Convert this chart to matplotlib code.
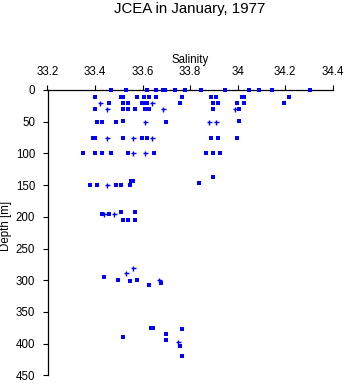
import matplotlib
matplotlib.use("Agg")
import matplotlib.pyplot as plt

plt.rcParams['font.family'] = ['Liberation Sans', 'DejaVu Sans']

# Bottle samples: salinity (psu) and depth (m), square symbols
sq_salinity = [
    33.468, 33.529, 33.619, 33.658, 33.687, 33.696, 33.738, 33.780, 33.847, 33.948, 34.049, 34.089, 34.146, 34.306,
    33.401, 33.509, 33.519, 33.578, 33.607, 33.628, 33.658, 33.767, 33.888, 33.908, 34.018, 34.028, 34.217,
    33.460, 33.519, 33.540, 33.599, 33.609, 33.619, 33.759, 33.898, 33.919, 33.999, 34.028, 34.196,
    33.400, 33.519, 33.540, 33.569, 33.609, 33.628, 33.898, 34.007,
    33.410, 33.431, 33.489, 33.519, 33.700, 34.007,
    33.390, 33.400, 33.519, 33.599, 33.619, 33.888, 33.919, 33.999,
    33.351, 33.401, 33.431, 33.468, 33.540, 33.649, 33.868, 33.898, 33.927,
    33.898, 33.550, 33.561, 33.839,
    33.380, 33.410, 33.489, 33.511, 33.548,
    33.431, 33.460, 33.511, 33.569,
    33.519, 33.540, 33.569,
    33.439, 33.498, 33.548, 33.578, 33.628, 33.679,
    33.519, 33.634, 33.645, 33.700, 33.700, 33.759, 33.767, 33.767,
]
sq_depth = [
    0, 0, 0, 0, 0, 0, 0, 0, 0, 0, 0, 0, 0, 0,
    11, 11, 11, 11, 11, 11, 11, 11, 11, 11, 11, 11, 11,
    21, 21, 21, 21, 21, 21, 21, 21, 21, 21, 21, 21,
    30, 30, 30, 30, 30, 30, 30, 30,
    51, 51, 51, 49, 51, 49,
    75, 75, 75, 75, 75, 75, 75, 75,
    100, 100, 100, 100, 100, 100, 99, 99, 99,
    138, 144, 144, 146,
    150, 150, 150, 150, 150,
    195, 195, 192, 192,
    205, 205, 205,
    295, 300, 302, 299, 308, 304,
    390, 375, 375, 385, 395, 404, 377, 420,
]

# Samples plotted with plus symbols
plus_salinity = [33.421, 33.640, 33.449, 33.687, 33.989, 33.609, 33.878, 33.908,
                 33.449, 33.558, 33.640, 33.560, 33.610, 33.449, 33.439, 33.480,
                 33.529, 33.560, 33.668, 33.748]
plus_depth = [21, 21, 30, 30, 30, 51, 50, 51,
              75, 75, 75, 100, 100, 150, 195, 195,
              289, 280, 300, 398]

sal_ticks = [33.2, 33.4, 33.6, 33.8, 34.0, 34.2, 34.4]
sal_ticklabels = ['33.2', '33.4', '33.6', '33.8', '34', '34.2', '34.4']
depth_ticks = [0, 50, 100, 150, 200, 250, 300, 350, 400, 450]

W, H = 346, 384
fig = plt.figure(figsize=(W / 100, H / 100), dpi=100)
x0, x1, y0, y1 = 47.5, 332.7, 90.0, 375.3
ax = fig.add_axes([x0 / W, 1 - y1 / H, (x1 - x0) / W, (y1 - y0) / H])

ax.plot(sq_salinity, sq_depth, linestyle='none', marker='s', markersize=2.4,
        markeredgewidth=0, color='#0000ff', clip_on=False, zorder=3,
        antialiased=False)
ax.plot(plus_salinity, plus_depth, linestyle='none', marker='+', markersize=3.6,
        markeredgewidth=1.0, color='#0000ff', clip_on=False, zorder=3,
        antialiased=False)

ax.set_xlim(33.2, 34.4)
ax.set_ylim(450, 0)
ax.xaxis.tick_top()
ax.set_xticks(sal_ticks)
ax.set_xticklabels(sal_ticklabels)
ax.set_yticks(depth_ticks)
ax.tick_params(axis='both', direction='out', length=3.8, width=0.8,
               labelsize=8.3, colors='black')
ax.tick_params(axis='x', pad=4.5)
ax.tick_params(axis='y', pad=5)
for side in ('right', 'bottom'):
    ax.spines[side].set_visible(False)
for side in ('top', 'left'):
    ax.spines[side].set_linewidth(0.9)
    ax.spines[side].set_zorder(1)

fig.text((x0 + x1) / 2 / W, 1 - 9 / H, 'JCEA in January, 1977',
         ha='center', va='center', fontsize=10.8)
fig.text((x0 + x1) / 2 / W, 1 - 60 / H, 'Salinity',
         ha='center', va='center', fontsize=8.3)
fig.text(6 / W, 1 - 226 / H, 'Depth [m]', rotation=90,
         ha='center', va='center', fontsize=8.3)

fig.savefig('out.png', dpi=100, facecolor='white')
